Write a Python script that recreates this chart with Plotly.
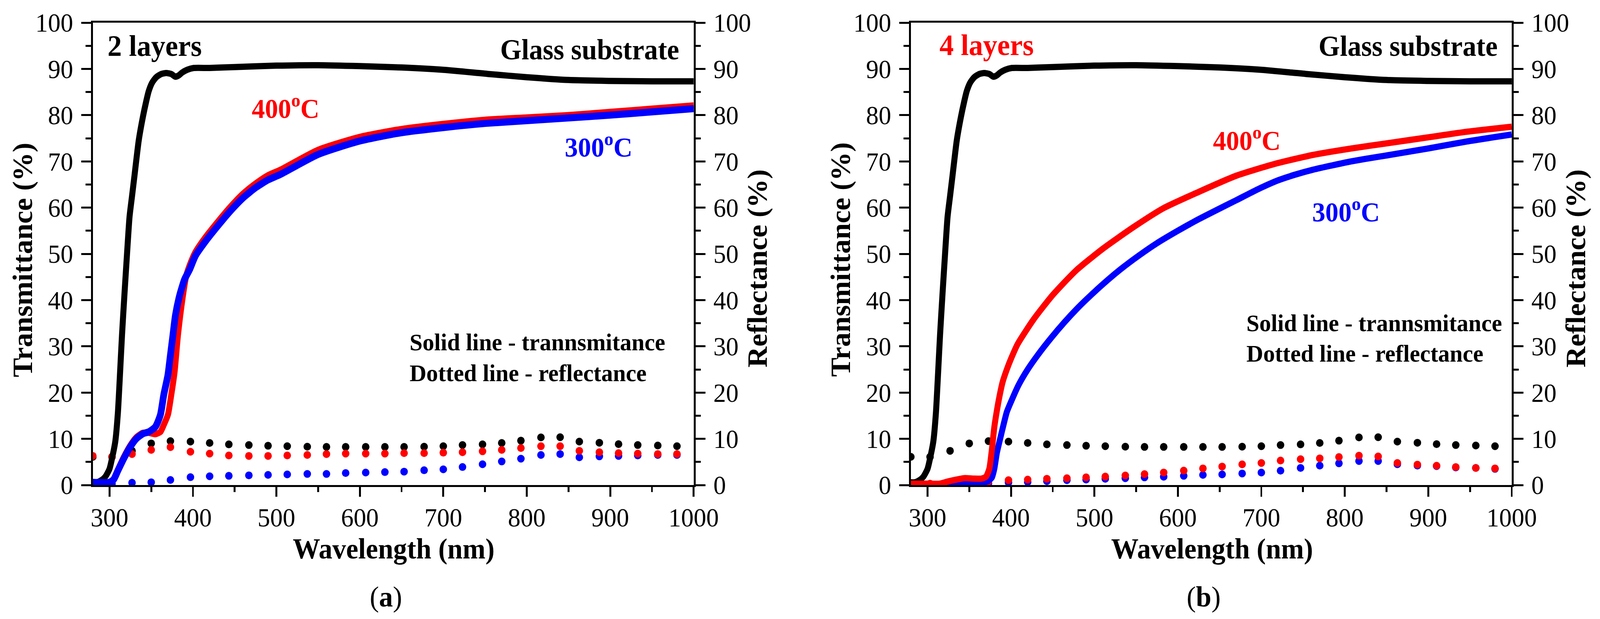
import plotly.graph_objects as go

# ---------------- data ----------------
# Glass substrate transmittance (same substrate in both panels)
glass_T_wl = [280, 285, 290, 295, 300, 304, 307, 310, 312, 315, 318, 321, 324, 327, 330,
              335, 340, 344, 347, 351, 356, 362, 368, 374, 379, 383, 387, 393, 401, 420,
              450, 500, 550, 600, 650, 700, 754, 800, 850, 900, 950, 1000]
glass_T = [0.6, 0.6, 1.0, 1.8, 3.5, 6.6, 9.5, 15.5, 22.0, 32.5, 41.5, 50.0, 58.0, 62.5, 67.0,
           74.5, 79.6, 83.0, 85.2, 87.0, 88.2, 88.9, 89.1, 88.9, 88.3, 88.6, 89.2, 89.8, 90.2, 90.2,
           90.4, 90.7, 90.8, 90.6, 90.3, 89.8, 88.9, 88.2, 87.6, 87.4, 87.3, 87.3]

# Panel (a) 2 layers
a400_T_wl = [280, 300, 305, 310, 317, 325, 332, 340, 347, 355, 361, 365, 370, 374, 378, 382, 388,
             392, 396, 403, 415, 430, 445, 460, 475, 490, 505, 550, 600, 650, 700, 750, 800, 850,
             900, 950, 1000]
a400_T = [0.6, 0.6, 1.3, 3.3, 6.0, 8.6, 10.3, 11.3, 11.3, 11.0, 11.5, 13.0, 15.2, 19.5, 24.5, 32.4, 41.0,
          45.3, 47.5, 50.4, 53.6, 57.0, 60.2, 63.0, 65.2, 67.0, 68.2, 72.5, 75.3, 77.0, 78.1, 79.0, 79.5, 80.0,
          80.7, 81.4, 82.1]
a300_T_wl = [280, 300, 305, 310, 317, 325, 332, 340, 347, 355, 361, 365, 370, 373, 376, 379, 384,
             390, 396, 403, 415, 430, 445, 460, 475, 490, 505, 550, 600, 650, 700, 750, 800, 850,
             900, 950, 1000]
a300_T = [0.6, 0.6, 1.2, 3.1, 5.7, 8.3, 10.0, 11.1, 11.5, 12.6, 15.2, 19.5, 23.8, 28.1, 32.4, 36.7, 41.0,
          44.5, 46.6, 49.6, 52.7, 56.1, 59.3, 62.1, 64.3, 66.0, 67.2, 71.5, 74.4, 76.2, 77.3, 78.2, 78.8, 79.4,
          80.0, 80.7, 81.4]

# Panel (b) 4 layers
b400_T_wl = [280, 300, 315, 325, 335, 345, 355, 365, 370, 374, 377, 380, 383, 386, 390, 395, 400,
             408, 427, 450, 478, 510, 547, 583, 625, 670, 717, 762, 808, 854, 900, 946, 1000]
b400_T = [0.3, 0.3, 0.3, 0.8, 1.2, 1.5, 1.4, 1.4, 1.8, 3.5, 7.5, 12.5, 16.0, 19.0, 22.3, 25.0, 27.3,
          30.5, 35.8, 41.1, 46.4, 51.1, 55.8, 59.9, 63.4, 66.9, 69.5, 71.4, 72.8, 74.0, 75.2, 76.4, 77.5]
b300_T_wl = [280, 340, 350, 365, 372, 377, 380, 383, 387, 391, 395, 400, 409, 420, 432, 448, 464,
             480, 496, 515, 533, 553, 574, 600, 625, 650, 670, 695, 720, 740, 762, 808, 854, 900,
             946, 1000]
b300_T = [0.2, 0.2, 0.5, 0.6, 0.8, 1.6, 3.5, 6.9, 10.0, 13.0, 15.8, 18.0, 21.6, 25.0, 28.1, 31.8, 35.2,
          38.3, 41.1, 44.2, 46.9, 49.6, 52.2, 55.0, 57.5, 59.8, 61.6, 63.9, 65.9, 67.1, 68.2, 70.0, 71.4, 72.8,
          74.3, 75.8]

# Reflectance (dotted curves), sampled where the dots are drawn
refl_wl = [280, 303, 327, 350, 373, 397, 420, 443, 467, 490, 513, 537, 560, 583, 607, 630,
           653, 677, 700, 723, 747, 770, 793, 817, 840, 863, 887, 910, 933, 957, 980]
glass_R = [6.1, 6.1, 7.4, 9.0, 9.5, 9.4, 9.1, 8.8, 8.65, 8.5, 8.4, 8.3, 8.25, 8.25, 8.25, 8.25,
           8.25, 8.3, 8.4, 8.65, 8.8, 9.1, 9.6, 10.3, 10.35, 9.4, 9.15, 8.85, 8.65, 8.55, 8.4]
a400_R = [6.3, 6.1, 6.7, 7.6, 8.2, 7.2, 6.8, 6.4, 6.3, 6.3, 6.4, 6.5, 6.7, 6.8, 6.8, 6.8,
          6.9, 6.9, 7.0, 7.1, 7.3, 7.6, 8.0, 8.4, 8.4, 7.4, 7.1, 6.9, 6.8, 6.7, 6.7]
a300_R = [0.3, 0.3, 0.5, 0.6, 1.1, 1.7, 1.9, 2.0, 2.1, 2.2, 2.3, 2.4, 2.4, 2.6, 2.7, 2.8,
          2.9, 3.2, 3.4, 3.9, 4.5, 5.1, 5.7, 6.5, 6.7, 6.0, 6.2, 6.3, 6.4, 6.5, 6.5]
b400_R = [0.3, 0.3, 0.4, 0.5, 0.77, 1.06, 1.18, 1.36, 1.48, 1.66, 1.83, 2.07, 2.36, 2.71, 3.12, 3.6,
          4.0, 4.48, 4.77, 5.3, 5.6, 5.77, 6.06, 6.36, 6.18, 4.77, 4.42, 4.18, 3.89, 3.7, 3.6]
b300_R = [0.2, 0.2, 0.2, 0.3, 0.4, 0.55, 0.65, 0.85, 1.06, 1.18, 1.36, 1.48, 1.66, 1.8, 2.0, 2.2,
          2.3, 2.5, 2.7, 3.1, 3.7, 4.2, 4.7, 5.2, 5.2, 4.5, 4.2, 4.1, 3.8, 3.7, 3.5]

x_ticks = [300, 400, 500, 600, 700, 800, 900, 1000]
y_ticks = [0, 10, 20, 30, 40, 50, 60, 70, 80, 90, 100]

# ---------------- styling ----------------
W, H = 4258, 1585
BLACK, RED, BLUE = "#000000", "#FF0000", "#0000FF"
FONT = "Liberation Serif"


def px(x):
    return x / W


def py(y):
    return 1 - y / H


fig = go.Figure()


def dots(x, y, color, xa, ya):
    fig.add_trace(go.Scatter(x=x, y=y, mode="markers", xaxis=xa, yaxis=ya,
                             marker=dict(color=color, size=20, symbol="circle", line=dict(width=0)),
                             hoverinfo="skip"))


def curve(x, y, color, xa, ya, w=16):
    fig.add_trace(go.Scatter(x=x, y=y, mode="lines", xaxis=xa, yaxis=ya,
                             line=dict(color=color, width=w, shape="spline", smoothing=0.6),
                             hoverinfo="skip"))


# Panel (a): reflectance on right axis y, transmittance on left axis y2 (drawn above)
dots(refl_wl, glass_R, BLACK, "x", "y")
dots(refl_wl, a300_R, BLUE, "x", "y")
dots(refl_wl, a400_R, RED, "x", "y")
curve(glass_T_wl, glass_T, BLACK, "x", "y2")
curve(a400_T_wl, a400_T, RED, "x", "y2")
curve(a300_T_wl, a300_T, BLUE, "x", "y2", w=18)

# Panel (b)
dots(refl_wl, glass_R, BLACK, "x2", "y3")
dots(refl_wl, b300_R, BLUE, "x2", "y3")
dots(refl_wl, b400_R, RED, "x2", "y3")
curve(glass_T_wl, glass_T, BLACK, "x2", "y4")
curve(b300_T_wl, b300_T, BLUE, "x2", "y4")
curve(b400_T_wl, b400_T, RED, "x2", "y4")

tickfont = dict(family=FONT, size=67, color=BLACK)
xcommon = dict(range=[280, 1000], tickmode="array", tickvals=x_ticks, ticktext=[str(v) for v in x_ticks],
               ticks="outside", ticklen=25, tickwidth=5, tickcolor=BLACK, ticklabelstandoff=-4,
               showline=True, linewidth=5, linecolor=BLACK, mirror=True,
               showgrid=False, zeroline=False, tickfont=tickfont, automargin=False,
               minor=dict(tickmode="linear", tick0=300, dtick=50, ticks="outside", ticklen=13,
                          tickwidth=5, tickcolor=BLACK, showgrid=False))
ycommon = dict(range=[0, 100], tickmode="array", tickvals=y_ticks, ticktext=[str(v) for v in y_ticks],
               ticks="outside", ticklen=26, tickwidth=5, tickcolor=BLACK, ticklabelstandoff=8,
               showline=True, linewidth=5, linecolor=BLACK, automargin=False,
               showgrid=False, zeroline=False, tickfont=tickfont,
               minor=dict(tickmode="linear", tick0=0, dtick=5, ticks="outside", ticklen=14,
                          tickwidth=5, tickcolor=BLACK, showgrid=False))

ydom = [py(1242), py(58)]
fig.update_layout(
    width=W, height=H, margin=dict(l=0, r=0, t=0, b=0, pad=0),
    paper_bgcolor="white", plot_bgcolor="white", showlegend=False,
    font=dict(family=FONT, color=BLACK),
    xaxis=dict(domain=[px(247), px(1846)], anchor="y", **xcommon),
    yaxis=dict(domain=ydom, anchor="x", side="right", **ycommon),
    yaxis2=dict(overlaying="y", anchor="x", side="left", **ycommon),
    xaxis2=dict(domain=[px(2424), px(4023)], anchor="y3", **xcommon),
    yaxis3=dict(domain=ydom, anchor="x2", side="right", **ycommon),
    yaxis4=dict(overlaying="y3", anchor="x2", side="left", **ycommon),
)

anns = []


def text(t, x, y, size, color=BLACK, xanchor="left", yanchor="bottom", angle=0):
    anns.append(dict(text=t, x=px(x), y=py(y), xref="paper", yref="paper", xanchor=xanchor,
                     yanchor=yanchor, showarrow=False, textangle=angle,
                     font=dict(family=FONT, size=size, color=color)))


# panel (a)
text("<b>2 layers</b>", 284, 161, 76)
text("<b>Glass substrate</b>", 1810, 170, 73, xanchor="right")
text("<b>400<sup>o</sup>C</b>", 760, 319, 70, RED, xanchor="center")
text("<b>300<sup>o</sup>C</b>", 1593, 418, 70, BLUE, xanchor="center")
text("<b>Solid line - trannsmitance</b>", 1088, 912, 62)
text("<b>Dotted line - reflectance</b>", 1088, 991, 62)
text("<b>Transmittance (%)</b>", 60, 666, 74, xanchor="center", yanchor="middle", angle=-90)
text("<b>Reflectance (%)</b>", 2016, 688, 74, xanchor="center", yanchor="middle", angle=-90)
text("<b>Wavelength (nm)</b>", 1047, 1405, 73, xanchor="center", yanchor="middle")
text("(<b>a</b>)", 1027, 1528, 74, xanchor="center", yanchor="middle")

# panel (b)
text("<b>4 layers</b>", 2498, 159, 76, RED)
text("<b>Glass substrate</b>", 3988, 161, 73, xanchor="right")
text("<b>400<sup>o</sup>C</b>", 3318, 401, 70, RED, xanchor="center")
text("<b>300<sup>o</sup>C</b>", 3582, 584, 70, BLUE, xanchor="center")
text("<b>Solid line - trannsmitance</b>", 3315, 863, 62)
text("<b>Dotted line - reflectance</b>", 3315, 941, 62)
text("<b>Transmittance (%)</b>", 2237, 665, 74, xanchor="center", yanchor="middle", angle=-90)
text("<b>Reflectance (%)</b>", 4193, 688, 74, xanchor="center", yanchor="middle", angle=-90)
text("<b>Wavelength (nm)</b>", 3225, 1405, 73, xanchor="center", yanchor="middle")
text("(<b>b</b>)", 3203, 1528, 74, xanchor="center", yanchor="middle")

fig.update_layout(annotations=anns)

# Fit the fixed-size figure to the actual viewport (no margins, no scrollbars).
fit_js = (
    "document.documentElement.style.overflow='hidden';"
    "document.body.style.margin='0px';"
    "document.body.style.overflow='hidden';"
    "var gd=document.getElementById('{plot_id}');"
    "var vw=document.documentElement.clientWidth||window.innerWidth;"
    "var vh=document.documentElement.clientHeight||window.innerHeight;"
    "var sx=vw/4258, sy=vh/1585;"
    "if(sx>0&&sy>0&&(Math.abs(sx-1)>0.002||Math.abs(sy-1)>0.002)){"
    "gd.style.transformOrigin='0 0';gd.style.transform='scale('+sx+','+sy+')';}"
)
fig.write_html("out.html", config={"displayModeBar": False}, post_script=fit_js)
